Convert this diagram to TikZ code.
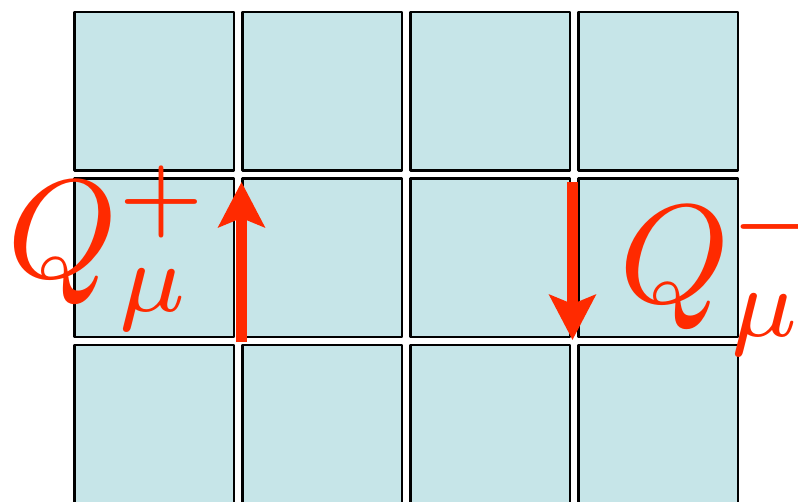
\documentclass[tikz,border=0pt]{standalone}
\usetikzlibrary{arrows.meta}
\definecolor{cellblue}{RGB}{198,229,232}
\definecolor{qred}{RGB}{255,42,0}
\begin{document}
\begin{tikzpicture}[x=1pt, y=-1pt, line join=round,
  cell/.style={draw, line width=2.5pt, fill=cellblue, minimum width=159.5pt, minimum height=158.5pt, inner sep=0pt},
  qarrow/.style={qred, line width=11pt, -{Stealth[width=46pt,length=45pt,inset=9pt]}},
  qlabel/.style={qred, scale=14, inner sep=0pt, anchor=base west}]
\useasboundingbox (0,0) rectangle (798,501);

% Lưới ô vuông
\foreach \i in {1,2,3}
  \foreach \j in {1,...,4}
    \node[cell] (c-\i-\j) at ({154+168*(\j-1)},{91+166.5*(\i-1)}) {};

% Mũi tên Q+ và Q-
\coordinate (up-s) at (241.5,342);
\coordinate (up-e) at (241.5,182);
\coordinate (dn-s) at (572.5,182);
\coordinate (dn-e) at (572.5,340);
\draw[qarrow] (up-s) -- (up-e);
\draw[qarrow] (dn-s) -- (dn-e);

% Nhãn
\node[qlabel] (qplus) at (5,277) {$Q_\mu^+$};
\node[qlabel] (qminus) at (617,302) {$Q_\mu^-$};
\end{tikzpicture}
\end{document}
